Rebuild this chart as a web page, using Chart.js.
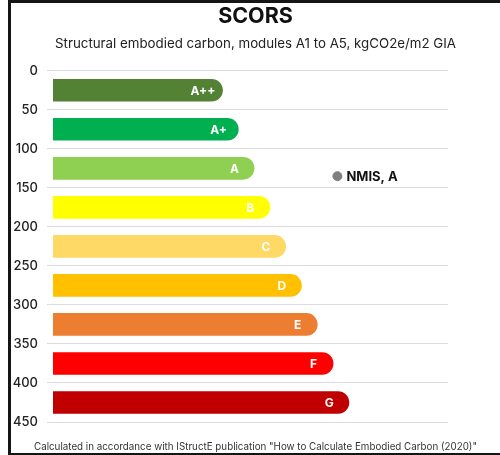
<!DOCTYPE html>
<html>
<head>
<meta charset="utf-8">
<script src="https://cdn.jsdelivr.net/npm/chart.js@4"></script>
<style>
  html, body { margin: 0; padding: 0; background: #fff; }
  #frame {
    position: absolute; left: 8px; top: 0; width: 492px; height: 455px;
    box-sizing: border-box;
    border-top: 3px solid #151515; border-left: 3px solid #151515; border-bottom: 2px solid #151515;
  }
  #wrap { position: relative; width: 489px; height: 450px; }
</style>
</head>
<body>
<div id="frame"><div id="wrap"><canvas id="scorsChart"></canvas></div></div>
<script>
// ratings, their band midpoints on the kgCO2e/m2 axis, and bar lengths
const grades = ["A++", "A+", "A", "B", "C", "D", "E", "F", "G"];
const bandMid = [25, 75, 125, 175, 225, 275, 325, 375, 425];
const barLength = [43, 47, 51, 55, 59, 63, 67, 71, 75];
const gradeColors = ["#548235", "#00b050", "#8fcf52", "#ffff00", "#ffd966", "#ffc000", "#ed7d31", "#ff0000", "#c00000"];

// project marker
const projectName = "NMIS, A";
const projectX = [72];
const projectY = [135];

const yTicks = [0, 50, 100, 150, 200, 250, 300, 350, 400, 450];
const footNote = 'Calculated in accordance with IStructE publication "How to Calculate Embodied Carbon (2020)"';

const labelPlugin = {
    id: 'barLabels',
    afterDatasetsDraw(chart) {
        const ctx = chart.ctx;
        ctx.save();
        // grade letters inside bar ends
        chart.getDatasetMeta(0).data.forEach(function (bar, i) {
            ctx.fillStyle = '#ffffff';
            ctx.font = 'bold 12px Inter';
            ctx.textAlign = 'center';
            ctx.textBaseline = 'middle';
            ctx.fillText(grades[i], bar.x - 20, bar.y + 1);
        });
        // project label next to point
        chart.getDatasetMeta(1).data.forEach(function (pt) {
            ctx.fillStyle = '#111111';
            ctx.font = 'bold 13px Inter';
            ctx.textAlign = 'left';
            ctx.textBaseline = 'middle';
            ctx.fillText(projectName, pt.x + 9, pt.y + 1);
        });
        // footnote
        ctx.fillStyle = '#333';
        ctx.font = '10.5px Inter';
        ctx.textAlign = 'center';
        ctx.textBaseline = 'middle';
        ctx.fillText(footNote, chart.width / 2, chart.height - 6, 443);
        ctx.restore();
    }
};

let ctx = document.getElementById("scorsChart").getContext('2d');
window.scorsChart = new Chart(ctx, {
    type: 'bar',
    data: {
        datasets: [{
            data: grades.map((g, i) => ({ x: barLength[i], y: bandMid[i] })),
            backgroundColor: gradeColors,
            borderRadius: 12,
            borderSkipped: 'start',
            categoryPercentage: 1,
            barPercentage: 0.58
        }, {
            type: 'scatter',
            data: projectX.map((x, i) => ({ x: x, y: projectY[i] })),
            backgroundColor: '#7f7f7f',
            borderColor: '#7f7f7f',
            pointRadius: 4.5
        }]
    },
    options: {
        indexAxis: 'y',
        responsive: true,
        maintainAspectRatio: false,
        animation: { duration: 0 },
        layout: { padding: { bottom: 31 } },
        plugins: {
            legend: { display: false },
            tooltip: { enabled: false },
            title: {
                display: true,
                text: 'SCORS',
                color: '#111',
                font: { family: 'Inter', size: 21.5, weight: 'bold', lineHeight: 1.2 },
                padding: { top: 1, bottom: 3 }
            },
            subtitle: {
                display: true,
                text: 'Structural embodied carbon, modules A1 to A5, kgCO2e/m2 GIA',
                color: '#222',
                font: { family: 'Inter', size: 13.3, lineHeight: 1.2 },
                padding: { top: 3, bottom: 19 }
            }
        },
        scales: {
            x: {
                type: 'linear',
                display: false,
                min: 0,
                max: 100,
                offset: false
            },
            y: {
                type: 'linear',
                reverse: true,
                min: 0,
                max: 450,
                offset: false,
                afterBuildTicks: function (scale) {
                    scale.ticks = yTicks.map(v => ({ value: v }));
                },
                afterFit: function (scale) { scale.width = 42; },
                grid: { color: '#dcdbe3', tickLength: 6, lineWidth: 1, offset: false },
                border: { display: false },
                ticks: {
                    padding: 9,
                    color: '#222',
                    font: { family: 'Inter', size: 13, weight: '500' }
                }
            },
            // empty right-hand axis keeps the plot narrower without shifting the titles
            yRight: {
                type: 'linear',
                position: 'right',
                min: 0,
                max: 450,
                offset: false,
                afterFit: function (scale) { scale.width = 52; },
                grid: { drawOnChartArea: false, drawTicks: false },
                border: { display: false },
                ticks: { display: false }
            }
        }
    },
    plugins: [labelPlugin]
});
</script>
</body>
</html>
